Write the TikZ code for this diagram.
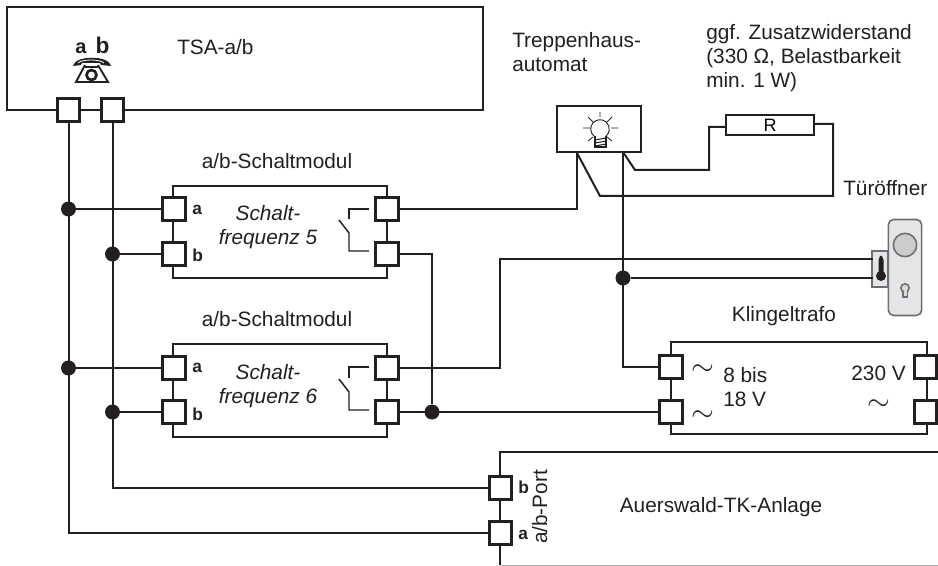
\documentclass[tikz,border=0pt]{standalone}
\usepackage{fontspec}
\setmainfont{Liberation Sans}
\definecolor{wire}{HTML}{231F20}
\definecolor{plate}{HTML}{E4E5E7}
\definecolor{plateline}{HTML}{6D6E71}
\tikzset{
    wirepath/.style={draw=wire,line width=1.5pt,line join=miter},
    box/.style={draw=wire,line width=1.5pt,fill=white,inner sep=0pt},
    port/.style={draw=wire,line width=2.4pt,fill=white,inner sep=0pt,minimum size=16.8pt},
    dot/.style={circle,fill=wire,inner sep=0pt,minimum size=11.25pt},
    label/.style={font=\fontsize{15.6}{18}\selectfont,text=wire,inner sep=0pt},
    modtext/.style={font=\fontsize{15.6}{18}\selectfont\itshape,text=wire,inner sep=0pt,align=center,anchor=base},
    pinlabel/.style={font=\fontsize{13}{14}\selectfont\bfseries,text=wire,inner sep=0pt,anchor=base west},
    wave/.style={scale=2.2,text=wire,inner sep=0pt}
}
\begin{document}
\begin{tikzpicture}[x=0.75pt,y=-0.75pt]
    \useasboundingbox (0,0) rectangle (938,566);

    % boxes
    \node[box,minimum width=357pt,minimum height=77pt] (tsa) at (245,58.5) {};
    \node[box,minimum width=160.5pt,minimum height=69pt] (modone) at (280,232) {};
    \node[box,minimum width=160.5pt,minimum height=69pt] (modtwo) at (280,390.5) {};
    \node[box,minimum width=192pt,minimum height=69pt] (trafo) at (799,388) {};
    \node[box,minimum width=63pt,minimum height=34.5pt] (automat) at (599,129) {};
    \node[box,minimum width=66pt,minimum height=15pt,font=\fontsize{13.5}{14}\selectfont] (resistor) at (770,125) {R};

    % TK-Anlage is open towards the right and the bottom
    \coordinate (tkright) at (938,452);
    \coordinate (tktop) at (500,452);
    \coordinate (tkfoot) at (500,565);
    \coordinate (tkfootright) at (938,565);
    \draw[wire,line width=0.4pt,draw opacity=0.35] (tkfoot) -- (tkfootright);
    \draw[wirepath] (tkright) -- (tktop) -- (tkfoot);

    % ports
    \node[port] (tsaa) at (68.5,110) {};
    \node[port] (tsab) at (112.5,110) {};
    \node[port] (onea) at (174,209) {};
    \node[port] (oneb) at (174,254) {};
    \node[port] (onex) at (387,209) {};
    \node[port] (oney) at (387,254) {};
    \node[port] (twoa) at (174,368) {};
    \node[port] (twob) at (174,412) {};
    \node[port] (twox) at (387,368) {};
    \node[port] (twoy) at (387,412) {};
    \node[port] (lowa) at (671,367) {};
    \node[port] (lowb) at (671,412) {};
    \node[port] (higha) at (925.5,367) {};
    \node[port] (highb) at (925.5,412) {};
    \node[port] (tkb) at (500.5,488) {};
    \node[port] (tka) at (500.5,533) {};

    % junctions
    \node[dot] (dotonea) at (68.5,209) {};
    \node[dot] (dotoneb) at (112.5,254) {};
    \node[dot] (dottwoa) at (68.5,368) {};
    \node[dot] (dottwob) at (112.5,412) {};
    \node[dot] (dotlow) at (432,412) {};
    \node[dot] (dotdoor) at (623,278) {};

    % door opener
    \node[draw=plateline,line width=1.2pt,fill=plate,rounded corners=4pt,minimum width=25pt,minimum height=72pt,inner sep=0pt] (doorplate) at (905,267.5) {};
    \node[draw=plateline,line width=1.2pt,fill=plate,minimum width=12pt,minimum height=27pt,inner sep=0pt] (doorlatch) at (880,269) {};
    \node[circle,draw=plateline,line width=1.2pt,fill=black!20,minimum size=17.5pt,inner sep=0pt] (doorknob) at (905,245) {};
    \fill[plateline] (902,290) rectangle (908,298);
    \fill[plateline] (905,288) circle (5);
    \fill[black!15] (903.5,290) rectangle (906.5,296.5);
    \fill[black!15] (905,288) circle (3.2);
    \fill[wire] (878.5,260) -- (880,256) -- (882,256) -- (883.5,260) -- (883.5,275) -- (878.5,275) -- cycle;
    \fill[wire] (881,276) circle (5);

    % wires
    \coordinate (latchup) at (873,259);
    \coordinate (latchdown) at (873,278);
    \coordinate (autoleft) at (576.5,152);
    \coordinate (autoright) at (623,152);
    \coordinate (autodiag) at (600,196);
    \coordinate (autobend) at (635,170);
    \coordinate (rbend) at (709,170);
    \coordinate (rleft) at (709,127);
    \coordinate (rfar) at (833,124);
    \coordinate (doorbend) at (833,196);
    \coordinate (lowbend) at (432,254);
    \coordinate (twobend) at (500,368);
    \coordinate (doorbendtwo) at (500,259);
    \draw[wirepath] (tsaa) |- (tka);
    \draw[wirepath] (tsab) |- (tkb);
    \draw[wirepath] (dotonea) -- (onea);
    \draw[wirepath] (dotoneb) -- (oneb);
    \draw[wirepath] (dottwoa) -- (twoa);
    \draw[wirepath] (dottwob) -- (twob);
    \draw[wirepath] (onex) -| (autoleft);
    \draw[wirepath] (autoleft) -- (autodiag) -- (doorbend) -- (rfar) -- (resistor.east |- rfar);
    \draw[wirepath] (autoright) -- (autobend) -- (rbend) -- (rleft) -- (resistor.west |- rleft);
    \draw[wirepath] (autoright) |- (lowa);
    \draw[wirepath] (oney) -- (lowbend) -- (dotlow);
    \draw[wirepath] (twoy) -- (lowb);
    \draw[wirepath] (twox) -- (twobend) -- (doorbendtwo) -- (latchup);
    \draw[wirepath] (dotdoor) -- (latchdown);

    % switches
    \draw[wire,line width=1.1pt] (369,209) -- (349,209) -- (349,219);
    \draw[wire,line width=1.1pt] (369,251) -- (349,251) -- (349,233) -- (339,220);
    \draw[wire,line width=1.1pt] (369,367) -- (349,367) -- (349,378);
    \draw[wire,line width=1.1pt] (369,410) -- (349,410) -- (349,392) -- (339,379);

    % lamp
    \draw[wire,line width=0.7pt] (600,129) +(130:9.3) arc (130:410:9.3);
    \draw[wire,line width=0.8pt] (595,136) -- (595,147) -- (606,147) -- (606,136);
    \draw[wire,line width=0.8pt] (595,140) -- (606,138) (595,143) -- (606,141) (595,146) -- (606,144);
    \draw[wire,line width=0.6pt] (600,112) -- (600,117) (583,128) -- (590,128) (611,128) -- (618,128) (588,117) -- (593,122) (612,117) -- (607,122) (588,141) -- (593,137) (612,141) -- (607,137);

    % phone
    \node[font=\fontsize{15}{16}\selectfont\bfseries,text=wire,inner sep=0pt,anchor=base] (phonea) at (81,54) {a};
    \node[font=\fontsize{17}{18}\selectfont\bfseries,text=wire,inner sep=0pt,anchor=base] (phoneb) at (102.5,54) {b};
    \fill[wire] (73,66) .. controls (75,55) and (109,55) .. (111,66) -- (101,65) -- (100,63) -- (82,63) -- (81,65) -- cycle;
    \draw[white,line width=0.6pt] (78,63) .. controls (82,59) and (100,59) .. (104,63);
    \draw[wire,line width=1.4pt] (85,65) -- (76,82) -- (108,82) -- (98,65);
    \draw[wire,line width=1pt] (85,67) -- (98,67);
    \draw[wire,line width=2pt] (91.5,75) circle (5);

    % texts
    \node[label,anchor=base west] (tsatext) at (177,55) {TSA-a/b};
    \node[label,anchor=base west,align=left] (automattext) at (512,72) {Treppenhaus-\\automat};
    \node[label,anchor=base west,align=left] (rtext) at (706,88) {ggf. Zusatzwiderstand\\(330 Ω, Belastbarkeit\\min. 1 W)};
    \node[label,anchor=base west] (dooropener) at (843,196) {Türöffner};
    \node[label,anchor=base] (modonetitle) at (277,169) {a/b-Schaltmodul};
    \node[label,anchor=base] (modtwotitle) at (277,327) {a/b-Schaltmodul};
    \node[modtext] (modonetext) at (268,245) {Schalt-\\frequenz 5};
    \node[modtext] (modtwotext) at (268,403) {Schalt-\\frequenz 6};
    \node[label,anchor=base] (trafotitle) at (784,321) {Klingeltrafo};
    \node[label,anchor=base west,align=left] (lowtext) at (723,406) {8 bis\\18 V};
    \node[label,anchor=base east] (hightext) at (906,380) {230 V};
    \node[label,anchor=base] (tktext) at (721,512) {Auerswald-TK-Anlage};
    \node[label,rotate=90,anchor=base] (porttext) at (547,507) {a/b-Port};

    \node[pinlabel] (onealabel) at (192,215) {a};
    \node[pinlabel] (oneblabel) at (192,262) {b};
    \node[pinlabel] (twoalabel) at (192,373) {a};
    \node[pinlabel] (twoblabel) at (192,420) {b};
    \node[pinlabel] (tkblabel) at (518,493) {b};
    \node[pinlabel] (tkalabel) at (518,539) {a};

    \node[wave] (wavea) at (703,375) {\smash{$\sim$}};
    \node[wave] (waveb) at (703,421) {\smash{$\sim$}};
    \node[wave] (wavec) at (879,410) {\smash{$\sim$}};
\end{tikzpicture}
\end{document}
